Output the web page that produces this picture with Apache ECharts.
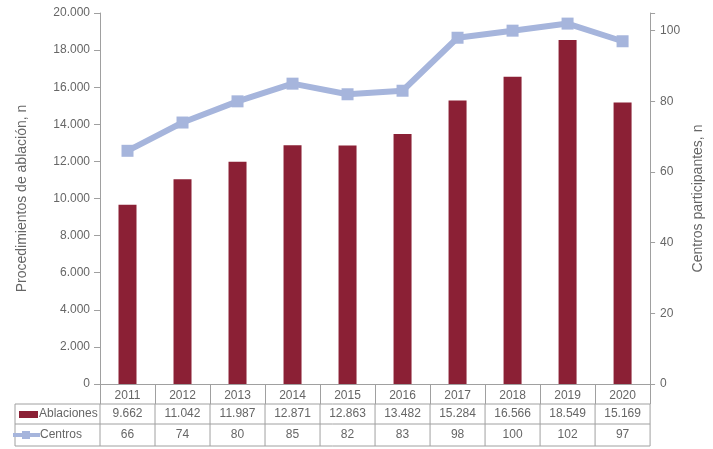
<!DOCTYPE html>
<html><head><meta charset="utf-8">
<script src="https://cdn.jsdelivr.net/npm/echarts@6/dist/echarts.min.js"></script>
<style>html,body{margin:0;padding:0;background:#fff}#c{width:713px;height:449px}</style>
</head><body><div id="c"></div>
<script>
const years = ['2011','2012','2013','2014','2015','2016','2017','2018','2019','2020'];
const ablaciones = [9662, 11042, 11987, 12871, 12863, 13482, 15284, 16566, 18549, 15169];
const centros = [66, 74, 80, 85, 82, 83, 98, 100, 102, 97];
const leftTicks = [0, 2000, 4000, 6000, 8000, 10000, 12000, 14000, 16000, 18000, 20000];
const rightTicks = [0, 20, 40, 60, 80, 100];

const barColor = '#8b2035';
const lineColor = '#a6b5dc';
const txt = '#666666';
const gridCol = '#a0a0a0';
const font = 'Liberation Sans';
const fmt = v => String(v).replace(/\B(?=(\d{3})+(?!\d))/g, '.');

const chart = echarts.init(document.getElementById('c'));
chart.setOption({
  animation: false,
  textStyle: {fontFamily: font},
  grid: {left: 100, right: 57, top: 13, bottom: 65},
  xAxis: {
    type: 'category', data: years,
    axisLine: {lineStyle: {color: gridCol, width: 1}},
    axisTick: {show: true, alignWithLabel: false, length: 20, lineStyle: {color: gridCol}},
    axisLabel: {color: txt, fontSize: 12, margin: 6, fontFamily: font}
  },
  yAxis: [
    {type: 'value', min: 0, max: 20000, interval: 2000, name: 'Procedimientos de ablación, n',
     nameLocation: 'middle', nameGap: 71, nameTextStyle: {color: txt, fontSize: 14, fontFamily: font},
     axisLine: {show: true, lineStyle: {color: gridCol}},
     axisTick: {show: true, length: 6, lineStyle: {color: gridCol}},
     splitLine: {show: false},
     axisLabel: {color: txt, fontSize: 12, margin: 10, fontFamily: font,
       formatter: v => leftTicks.includes(v) ? fmt(v) : ''}},
    {type: 'value', min: 0, max: 105, interval: 20, name: 'Centros participantes, n',
     nameLocation: 'middle', nameGap: 40, nameRotate: 90, nameTextStyle: {color: txt, fontSize: 14, fontFamily: font},
     axisLine: {show: true, lineStyle: {color: gridCol}},
     axisTick: {show: true, length: 5, lineStyle: {color: gridCol}},
     splitLine: {show: false},
     axisLabel: {color: txt, fontSize: 12, margin: 10, fontFamily: font,
       formatter: v => rightTicks.includes(v) ? String(v) : ''}}
  ],
  series: [
    {name: 'Ablaciones', type: 'bar', data: ablaciones, barWidth: 18, itemStyle: {color: barColor}},
    {name: 'Centros', type: 'line', yAxisIndex: 1, data: centros, symbol: 'rect', symbolSize: 12,
     lineStyle: {color: lineColor, width: 6}, itemStyle: {color: lineColor}}
  ]
});

function drawTable() {
  const rect = chart.getModel().getComponent('grid').coordinateSystem.getRect();
  const x0 = rect.x, x1 = rect.x + rect.width, yAxisY = rect.y + rect.height;
  const r1 = yAxisY + 20, r2 = r1 + 20, r3 = r2 + 22;
  const legL = 15;
  const g = [];
  const line = (xa, ya, xb, yb) => g.push({type: 'line', shape: {x1: xa, y1: ya, x2: xb, y2: yb}, style: {stroke: gridCol, lineWidth: 1}, silent: true});
  line(legL, r1, x1, r1); line(legL, r2, x1, r2); line(legL, r3, x1, r3);
  line(legL, r1, legL, r3);
  const step = rect.width / years.length;
  for (let i = 0; i <= years.length; i++) line(x0 + i * step, r1, x0 + i * step, r3);
  years.forEach((y, i) => {
    const cx = chart.convertToPixel({xAxisIndex: 0}, y);
    g.push({type: 'text', x: cx, y: (r1 + r2) / 2, style: {text: fmt(ablaciones[i]), fill: txt, font: '12px ' + font, textAlign: 'center', textVerticalAlign: 'middle'}});
    g.push({type: 'text', x: cx, y: (r2 + r3) / 2, style: {text: String(centros[i]), fill: txt, font: '12px ' + font, textAlign: 'center', textVerticalAlign: 'middle'}});
  });
  // legend keys
  g.push({type: 'rect', shape: {x: 19, y: (r1 + r2) / 2 - 3, width: 19, height: 7}, style: {fill: barColor}});
  g.push({type: 'text', x: 39, y: (r1 + r2) / 2, style: {text: 'Ablaciones', fill: txt, font: '12px ' + font, textVerticalAlign: 'middle'}});
  const cy = (r2 + r3) / 2;
  g.push({type: 'line', shape: {x1: 13, y1: cy, x2: 40, y2: cy}, style: {stroke: lineColor, lineWidth: 4}});
  g.push({type: 'rect', shape: {x: 22, y: cy - 4, width: 8, height: 8}, style: {fill: lineColor}});
  g.push({type: 'text', x: 40, y: cy, style: {text: 'Centros', fill: txt, font: '12px ' + font, textVerticalAlign: 'middle'}});
  chart.setOption({graphic: g});
}
drawTable();
</script></body></html>
